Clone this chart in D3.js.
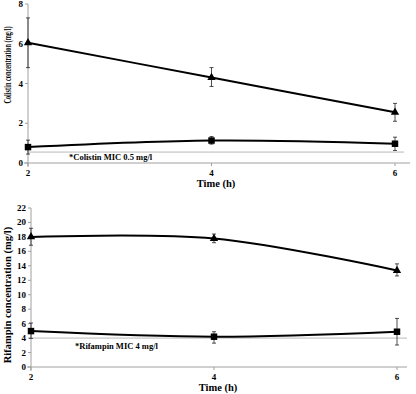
<!DOCTYPE html>
<html>
<head>
<meta charset="utf-8">
<script src="https://cdn.jsdelivr.net/npm/d3@7"></script>
<style>
  body { margin: 0; background: #fff; }
  svg { display: block; }
  text { font-family: "Liberation Serif", "Times New Roman", serif; font-weight: bold; fill: #000; }
</style>
</head>
<body>
<div id="chart"></div>
<script>
// hours after dosing
const times = [2, 4, 6];

// colistin panel
const colistinTri = [6.05, 4.3, 2.55];
const colistinTriLo = [4.8, 3.85, 2.1];
const colistinTriHi = [7.3, 4.8, 3.0];
const colistinSq = [0.8, 1.13, 0.97];
const colistinSqLo = [0.45, 0.95, 0.63];
const colistinSqHi = [1.15, 1.33, 1.3];
const colistinMic = 0.55;
const colistinTicks = [0, 2, 4, 6, 8];

// rifampin panel
const rifTri = [18.0, 17.78, 13.35];
const rifTriLo = [16.85, 17.2, 12.6];
const rifTriHi = [19.2, 18.4, 14.27];
const rifSq = [4.97, 4.19, 4.88];
const rifSqLo = [3.96, 3.3, 3.04];
const rifSqHi = [6.08, 4.88, 6.72];
const rifMic = 4;
const rifTicks = [0, 2, 4, 6, 8, 10, 12, 14, 16, 18, 20, 22];

const svg = d3.select('#chart').append('svg')
    .attr('width', 416)
    .attr('height', 394);

function panel (opt) {
    const g = svg.append('g');
    const x = d3.scaleLinear().domain([2, 6]).range([opt.left, opt.right]);
    const y = d3.scaleLinear().domain([0, opt.ymax]).range([opt.bottom, opt.top]);

    // axes (gray, excel style)
    g.append('line')
        .attr('x1', opt.left - 4).attr('x2', opt.axisEnd)
        .attr('y1', y(0)).attr('y2', y(0))
        .attr('stroke', '#a0a0a0').attr('stroke-width', 1);
    g.append('line')
        .attr('x1', opt.left).attr('x2', opt.left)
        .attr('y1', y(opt.ymax)).attr('y2', y(0) + 4)
        .attr('stroke', '#a0a0a0').attr('stroke-width', 1);

    opt.ticks.forEach((t) => {
        g.append('line')
            .attr('x1', opt.left - 3).attr('x2', opt.left)
            .attr('y1', y(t)).attr('y2', y(t))
            .attr('stroke', '#a0a0a0');
        g.append('text')
            .attr('x', opt.left - 5).attr('y', y(t) + 3)
            .attr('text-anchor', 'end')
            .attr('font-size', 9)
            .text(t);
    });
    times.forEach((t) => {
        g.append('line')
            .attr('x1', x(t)).attr('x2', x(t))
            .attr('y1', y(0)).attr('y2', y(0) + 3)
            .attr('stroke', '#a0a0a0');
        g.append('text')
            .attr('x', x(t)).attr('y', y(0) + 13)
            .attr('text-anchor', 'middle')
            .attr('font-size', 9)
            .text(t);
    });

    // MIC reference line
    g.append('line')
        .attr('x1', opt.left).attr('x2', opt.micEnd)
        .attr('y1', y(opt.mic)).attr('y2', y(opt.mic))
        .attr('stroke', '#b8b8b8').attr('stroke-width', 1);
    g.append('text')
        .attr('x', opt.micX).attr('y', opt.micY)
        .attr('font-size', 8.5)
        .text(opt.micLabel);

    // titles
    g.append('text')
        .attr('x', opt.titleX).attr('y', opt.titleY)
        .attr('text-anchor', 'middle')
        .attr('font-size', 10.5)
        .text('Time (h)');
    g.append('text')
        .attr('transform', `translate(11, ${opt.ylabelY}) scale(1, ${opt.ylabelScale}) rotate(-90)`)
        .attr('text-anchor', 'middle')
        .attr('font-size', 10.5)
        .text(opt.ylabel);

    const line = d3.line()
        .x((d, i) => x(times[i]))
        .y((d) => y(d))
        .curve(d3.curveCatmullRom.alpha(0.5));

    opt.series.forEach((s) => {
        g.append('path')
            .datum(s.values)
            .attr('d', line)
            .attr('fill', 'none')
            .attr('stroke', '#000')
            .attr('stroke-width', 2);

        s.values.forEach((v, i) => {
            const cx = x(times[i]);
            g.append('line')
                .attr('x1', cx).attr('x2', cx)
                .attr('y1', y(s.lo[i])).attr('y2', y(s.hi[i]))
                .attr('stroke', '#222').attr('stroke-width', 0.8);
            [s.lo[i], s.hi[i]].forEach((e) => {
                g.append('line')
                    .attr('x1', cx - 2).attr('x2', cx + 2)
                    .attr('y1', y(e)).attr('y2', y(e))
                    .attr('stroke', '#222').attr('stroke-width', 0.8);
            });
        });

        g.selectAll(null)
            .data(s.values)
            .enter()
            .append('path')
            .attr('transform', (d, i) => `translate(${x(times[i])}, ${y(d)})`)
            .attr('d', d3.symbol().type(s.symbol).size(s.symbol === d3.symbolSquare ? 42 : 30))
            .attr('fill', '#000');
    });
}

panel({
    left: 28, right: 395, axisEnd: 410, micEnd: 404,
    top: 4, bottom: 163, ymax: 8,
    ticks: colistinTicks,
    mic: colistinMic, micLabel: '*Colistin MIC 0.5 mg/l', micX: 69, micY: 160,
    titleX: 216, titleY: 187,
    ylabel: 'Colistin concentration (mg/l)', ylabelY: 65, ylabelScale: 0.6,
    series: [
        { values: colistinTri, lo: colistinTriLo, hi: colistinTriHi, symbol: d3.symbolTriangle },
        { values: colistinSq, lo: colistinSqLo, hi: colistinSqHi, symbol: d3.symbolSquare }
    ]
});

panel({
    left: 31, right: 397, axisEnd: 407, micEnd: 407,
    top: 208, bottom: 367, ymax: 22,
    ticks: rifTicks,
    mic: rifMic, micLabel: '*Rifampin MIC 4 mg/l', micX: 75, micY: 349,
    titleX: 218, titleY: 391,
    ylabel: 'Rifampin concentration (mg/l)', ylabelY: 295, ylabelScale: 1,
    series: [
        { values: rifTri, lo: rifTriLo, hi: rifTriHi, symbol: d3.symbolTriangle },
        { values: rifSq, lo: rifSqLo, hi: rifSqHi, symbol: d3.symbolSquare }
    ]
});
</script>
</body>
</html>
